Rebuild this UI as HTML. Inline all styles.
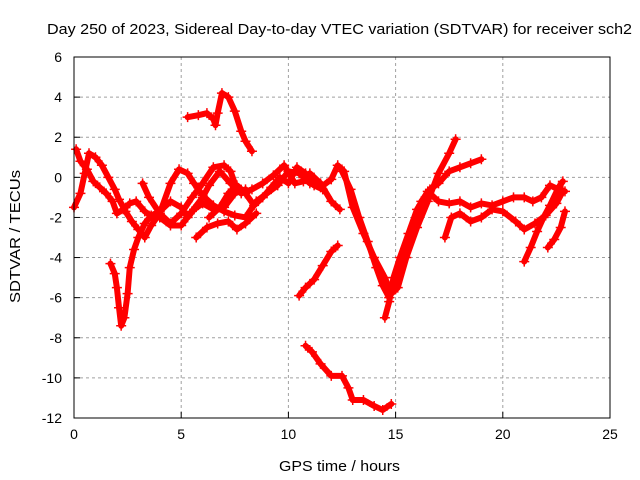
<!DOCTYPE html>
<html><head><meta charset="utf-8"><style>
body{margin:0;background:#fff}
svg{display:block;font-family:"Liberation Sans",sans-serif}
</style></head><body>
<svg id="chart" width="640" height="480" viewBox="0 0 640 480">
<rect width="640" height="480" fill="#fff"/>
<text x="47" y="34" font-size="15" textLength="585" lengthAdjust="spacingAndGlyphs">Day 250 of 2023, Sidereal Day-to-day VTEC variation (SDTVAR) for receiver sch2</text>
<text x="279" y="471" font-size="15" textLength="121" lengthAdjust="spacingAndGlyphs">GPS time / hours</text>
<text transform="translate(20,303) rotate(-90)" font-size="15" textLength="133" lengthAdjust="spacingAndGlyphs">SDTVAR / TECUs</text>
<g id="grid"></g>
<g id="series"></g>
<rect x="74" y="57" width="536" height="361" fill="none" stroke="#000" stroke-width="1"/>
<g id="ticks"></g>
</svg>
<script>
const xTicks=[0,5,10,15,20,25];
const yTicks=[6,4,2,0,-2,-4,-6,-8,-10,-12];
const s1x=[0,0.3,0.5,0.7,1.0,1.3,1.6,1.9,2.1,2.4,2.7,3.0,3.3,3.6,4.0,4.5,4.9,5.3,5.6,6.0,6.5,7.0,7.5,8.0,8.5,9.0,9.5,10.0,10.5,11.0,11.5,12.0,12.3,12.6,13.0,13.5,14.0,14.5,14.8,15.1,15.5,16,16.5,17,17.5,17.8];
const s1y=[-1.5,-0.8,0.2,1.2,1.0,0.6,0,-0.6,-1.1,-1.7,-2.2,-2.6,-3.0,-2.4,-1.8,-0.3,0.4,0.2,-0.3,-0.9,-1.4,-1.7,-1.9,-2.0,-1.2,-0.8,-0.4,0.3,0.2,-0.3,-0.5,-0.1,0.6,0.3,-1.5,-2.8,-4.0,-5.0,-5.8,-5.5,-4.0,-2.5,-1.2,0.2,1.2,1.9];
const s2x=[0.1,0.3,0.6,0.9,1.2,1.5,1.8,2.0,2.3,2.6,2.9,3.3,3.7,4.0,4.5,5.0,5.5,6.0,6.3,6.8,7.3,7.8,8.3,8.8,9.3,9.8,10.3,10.7,11.0,11.5,12.0,12.4];
const s2y=[1.4,0.8,0.4,-0.2,-0.5,-0.8,-1.2,-1.8,-1.6,-1.3,-1.2,-1.7,-2.0,-2.0,-2.4,-2.4,-1.7,-1.0,-0.4,0.3,-0.3,-0.8,-0.6,-0.3,0.1,0.6,-0.3,-0.2,0.2,-0.3,-1.2,-1.6];
const s3x=[12.5,12.9,13.3,13.7,14.1,14.4,14.7,15.0,15.4,15.8,16.2,16.6,17.0,17.5,18.0,18.5,19.0];
const s3y=[0.3,-0.6,-2.0,-3.2,-4.5,-5.4,-6.0,-5.2,-3.8,-2.5,-1.2,-0.6,-0.3,0.3,0.5,0.7,0.9];
const s4x=[14.5,14.7,14.9,15.2,15.6,16.0,16.5,17.0,17.5,18.0,18.5,19.0,19.5,20.0,20.5,21.0,21.4,21.8,22.2,22.6,22.9];
const s4y=[-7.0,-6.2,-5.0,-4.0,-2.8,-1.6,-0.7,-1.2,-1.3,-1.2,-1.5,-1.3,-1.4,-1.2,-1.0,-1.0,-1.2,-1.0,-0.4,-0.6,-0.7];
const s5x=[17.3,17.6,18.0,18.5,19,19.5,20,20.6,21,21.5,22,22.5,22.8];
const s5y=[-3.0,-2.0,-1.8,-2.2,-2.0,-1.6,-1.7,-2.2,-2.6,-2.3,-1.9,-1.3,-0.7];
const s6x=[21.0,21.3,21.6,21.9,22.2,22.6,22.8];
const s6y=[-4.2,-3.5,-2.7,-2.0,-1.4,-0.5,-0.2];
const s7x=[22.1,22.4,22.7,22.9];
const s7y=[-3.5,-3.1,-2.5,-1.7];
const s8x=[10.5,10.8,11.2,11.6,12.0,12.3];
const s8y=[-5.9,-5.5,-5.1,-4.4,-3.7,-3.4];
const s9x=[10.8,11.1,11.5,12.0,12.5,12.8,13.0,13.5,14.0,14.4,14.8];
const s9y=[-8.4,-8.7,-9.3,-9.9,-9.9,-10.5,-11.1,-11.1,-11.4,-11.6,-11.3];
const s10x=[5.3,5.8,6.2,6.5,6.6,6.7,6.9,7.2,7.5,7.8,8.0,8.3];
const s10y=[3.0,3.1,3.2,2.9,2.6,3.2,4.2,4.0,3.3,2.3,1.8,1.3];
const s11x=[1.7,1.9,2.0,2.1,2.2,2.35,2.5,2.6,2.8,3.0,3.3,3.6,4.0,4.5,5.0,5.3,5.6,6.0,6.5,7.0,7.5,8.0];
const s11y=[-4.3,-4.8,-5.5,-6.5,-7.4,-7.0,-5.8,-4.5,-3.6,-3.0,-2.3,-1.9,-1.7,-1.2,-1.5,-2.0,-1.6,-1.3,-1.6,-1.5,-0.8,-0.6];
const s12x=[6.3,6.8,7.2,7.6,8.0,8.4,8.8,9.2,9.6,10.0,10.4,10.8,11.2,11.6];
const s12y=[-2.0,-1.5,-0.8,-0.4,-0.8,-1.4,-1.0,-0.5,0.0,-0.3,0.5,0.2,-0.4,-0.6];
const s13x=[5.7,6.2,6.7,7.2,7.6,8.0,8.5];
const s13y=[-3.0,-2.5,-2.3,-2.2,-2.6,-2.3,-1.8];
const s14x=[3.2,3.5,4.0,4.5,5.0,5.5,6.0,6.5,7.0,7.3,7.6];
const s14y=[-0.3,-1.0,-1.8,-2.3,-1.8,-1.0,-0.3,0.5,0.6,0.3,-0.6];
const seriesX=[s1x,s2x,s3x,s4x,s5x,s6x,s7x,s8x,s9x,s10x,s11x,s12x,s13x,s14x];
const seriesY=[s1y,s2y,s3y,s4y,s5y,s6y,s7y,s8y,s9y,s10y,s11y,s12y,s13y,s14y];

const X0=74,X1=610,Y0=57,Y1=418;
const sx=v=>X0+(v-0)/(25-0)*(X1-X0);
const sy=v=>Y1-(v-(-12))/(6-(-12))*(Y1-Y0);
const NS="http://www.w3.org/2000/svg";
const grid=document.getElementById('grid'),ticks=document.getElementById('ticks'),ser=document.getElementById('series');
function mk(tag,attrs,parent){const e=document.createElementNS(NS,tag);for(const k in attrs)e.setAttribute(k,attrs[k]);parent.appendChild(e);return e;}
xTicks.forEach(t=>{
  const x=sx(t);
  if(t>0&&t<25){const g=mk('line',{x1:x,x2:x,y1:Y0,y2:Y1,stroke:'#a0a0a0','stroke-dasharray':'3,3'},grid);
  
  }
  const tk=mk('line',{x1:x,x2:x,y1:Y1,y2:Y1-6,stroke:'#000'},ticks);
  
  
  const tx=mk('text',{x:x,y:Y1+21,'font-size':14,'text-anchor':'middle'},ticks);
  tx.textContent=t;
  
  
});
yTicks.forEach(t=>{
  const y=sy(t);
  if(t>-12&&t<6){const g=mk('line',{x1:X0,x2:X1,y1:y,y2:y,stroke:'#a0a0a0','stroke-dasharray':'3,3'},grid);
  
  }
  const tk=mk('line',{x1:X0,x2:X0+6,y1:y,y2:y,stroke:'#000'},ticks);
  
  
  const tx=mk('text',{x:X0-12,y:y+5,'font-size':14,'text-anchor':'end'},ticks);
  tx.textContent=t;
  
  
});
seriesX.forEach((xs,i)=>{
  const ys=seriesY[i];
  const pts=xs.map((x,j)=>sx(x)+','+sy(ys[j])).join(' ');
  const pl=mk('polyline',{points:pts,fill:'none',stroke:'#ff0000','stroke-width':6,'stroke-linejoin':'round','stroke-linecap':'round'},ser);
  
  
  xs.forEach((x,j)=>{
    const cx=sx(x),cy=sy(ys[j]);
    const m=mk('path',{d:`M${cx-5},${cy}H${cx+5}M${cx},${cy-5}V${cy+5}`,stroke:'#ff0000','stroke-width':1.5},ser);
    
    
  });
});
</script>
</body></html>
